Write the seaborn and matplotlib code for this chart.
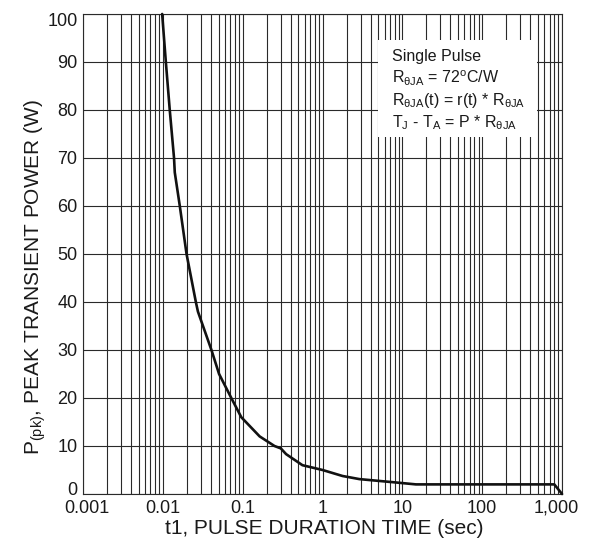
import matplotlib
matplotlib.use("Agg")
import matplotlib.pyplot as plt
import matplotlib.transforms as mtransforms
import seaborn as sns
import pandas as pd
from matplotlib.ticker import FixedLocator, FixedFormatter, LogLocator, NullFormatter

# Single-pulse peak transient power versus pulse duration
pulse_time_s = [0.0098, 0.0109, 0.0122, 0.0138, 0.0141, 0.0163, 0.0198, 0.0259, 0.0275,
                0.0406, 0.0506, 0.072, 0.096, 0.163, 0.25, 0.30, 0.35, 0.56, 1.0,
                1.78, 2.9, 8.3, 14.8, 100.0, 800.0, 1000.0]
peak_power_w = [100, 90, 80, 70, 67, 60, 50, 40, 38,
                30, 25, 20, 16, 12, 10, 9.5, 8.3, 6.0, 5.0,
                3.75, 3.1, 2.4, 2.0, 2.0, 2.0, 0.0]

x_ticks = [0.001, 0.01, 0.1, 1, 10, 100, 1000]
x_tick_labels = ["0.001", "0.01", "0.1", "1", "10", "100", "1,000"]
y_ticks = [0, 10, 20, 30, 40, 50, 60, 70, 80, 90, 100]

note_lines = [
    "Single Pulse",
    r"R$_{\mathrm{\theta JA}}$ = 72$^{\mathrm{o}}$C/W",
    r"R$_{\mathrm{\theta JA}}$(t) = r(t) * R$_{\mathrm{\theta JA}}$",
    r"T$_{\mathrm{J}}$ - T$_{\mathrm{A}}$ = P * R$_{\mathrm{\theta JA}}$",
]

sns.set_style("white")
plt.rcParams["font.family"] = ["Liberation Sans", "DejaVu Sans"]
plt.rcParams["mathtext.fontset"] = "custom"
plt.rcParams["mathtext.rm"] = "Liberation Sans"
plt.rcParams["mathtext.it"] = "Liberation Sans:italic"
plt.rcParams["mathtext.bf"] = "Liberation Sans:bold"

df = pd.DataFrame({"t": pulse_time_s, "p": peak_power_w})

fig = plt.figure(figsize=(5.99, 5.40), dpi=100)
ax = fig.add_axes([0.1386, 0.0852, 0.7997, 0.8889])

grid_color = "#2a2a2a"
text_color = "#1a1a1a"
ax.set_xscale("log")
ax.set_xlim(0.001, 1000)
ax.set_ylim(0, 100)

ax.xaxis.set_major_locator(FixedLocator(x_ticks))
ax.xaxis.set_major_formatter(FixedFormatter(x_tick_labels))
ax.xaxis.set_minor_locator(LogLocator(base=10, subs=range(2, 10), numticks=20))
ax.xaxis.set_minor_formatter(NullFormatter())
ax.yaxis.set_major_locator(FixedLocator(y_ticks))

ax.grid(True, which="major", axis="both", color=grid_color, linewidth=0.8)
ax.grid(True, which="minor", axis="x", color=grid_color, linewidth=0.8)
ax.set_axisbelow(True)
for s in ax.spines.values():
    s.set_color(grid_color)
    s.set_linewidth(0.8)

ax.tick_params(axis="both", which="both", length=0, labelsize=13, colors=text_color)
ax.tick_params(axis="x", pad=4)
ax.tick_params(axis="y", pad=4)

sns.lineplot(data=df, x="t", y="p", ax=ax, color="#111111", linewidth=1.9,
             sort=False, estimator=None, clip_on=False, zorder=5)

ax.set_xlabel("t1, PULSE DURATION TIME (sec)", fontsize=15, color=text_color)
ax.set_ylabel(r"P$_{\mathrm{(pk)}}$, PEAK TRANSIENT POWER (W)", fontsize=15,
              color=text_color)
ax.xaxis.set_label_coords(0.503, -0.052)
ax.yaxis.set_label_coords(-0.073, 0.452)

# nudge the end tick labels inward so they sit clear of the corner
def nudge(label, dx_px, dy_px):
    off = mtransforms.ScaledTranslation(dx_px / 100, dy_px / 100, fig.dpi_scale_trans)
    label.set_transform(label.get_transform() + off)

yt = ax.yaxis.get_major_ticks()
nudge(yt[0].label1, 0, 5)
nudge(yt[-1].label1, 0, -6)
xt = ax.xaxis.get_major_ticks()
nudge(xt[0].label1, 4, 0)
nudge(xt[-1].label1, -6, 0)

# white panel holding the conditions note
ax.add_patch(plt.Rectangle((0.616, 0.744), 0.332, 0.202, transform=ax.transAxes,
                           facecolor="white", edgecolor="none", zorder=3))
y_pos = [0.911, 0.865, 0.820, 0.774]
for txt, yy in zip(note_lines, y_pos):
    ax.text(0.645, yy, txt, transform=ax.transAxes, fontsize=11.5, color=text_color,
            va="center", ha="left", zorder=4)

fig.savefig("out.png", dpi=100)
